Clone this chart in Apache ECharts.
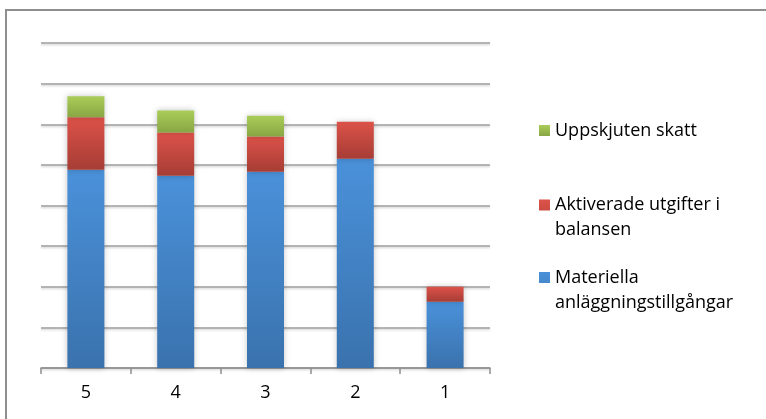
<!DOCTYPE html>
<html>
<head>
<meta charset="utf-8">
<script src="https://cdn.jsdelivr.net/npm/echarts@6/dist/echarts.min.js"></script>
<style>
  html, body { margin: 0; padding: 0; background: #fff; overflow: hidden; }
  #frame { position: absolute; left: 5px; top: 9px; width: 900px; height: 600px;
           border-left: 2px solid #8e8e8e; border-top: 2px solid #8e8e8e; }
  #chart { position: absolute; left: 0; top: 0; width: 766px; height: 419px; }
</style>
</head>
<body>
<div id="frame"></div>
<div id="chart"></div>
<script>
// Years, newest first
const categories = ['5', '4', '3', '2', '1'];
// Stacked components
const materiella = [4.88, 4.73, 4.83, 5.15, 1.63];
const aktiverade = [1.29, 1.07, 0.87, 0.91, 0.37];
const uppskjuten = [0.52, 0.54, 0.51, null, null];

const names = {
  mat: 'Materiella anläggningstillgångar',
  akt: 'Aktiverade utgifter i balansen',
  upp: 'Uppskjuten skatt'
};
const labelLines = {
  [names.mat]: 'Materiella\nanläggningstillgångar',
  [names.akt]: 'Aktiverade utgifter i\nbalansen',
  [names.upp]: 'Uppskjuten skatt'
};

function grad(top, bottom) {
  return new echarts.graphic.LinearGradient(0, 0, 0, 1, [
    { offset: 0, color: top },
    { offset: 1, color: bottom }
  ]);
}

const FONT = '"Open Sans"';
const FONT_SIZE = 18;
const LINE_H = 25;

function barSeries(name, data, top, bottom) {
  return {
    name: name,
    type: 'bar',
    stack: 'total',
    data: data,
    barWidth: 37,
    itemStyle: {
      color: grad(top, bottom),
      shadowBlur: 6,
      shadowColor: 'rgba(0,0,0,0.22)'
    },
    emphasis: { disabled: true }
  };
}

// One legend block per entry; two-line entries keep the swatch beside the first line.
// The block's box starts half a line above the swatch centre.
function legendAt(name, swatchCenter) {
  const twoLines = labelLines[name].indexOf('\n') >= 0;
  const h = twoLines ? 11 + LINE_H : 11;
  return {
    data: [name],
    left: 539,
    top: swatchCenter - LINE_H / 2,
    orient: 'vertical',
    icon: twoLines
      ? 'path://M0,0h11v11h-11z M0,' + h + 'h0.01v-0.01h-0.01z'
      : 'rect',
    itemWidth: 11,
    itemHeight: h,
    itemGap: 0,
    padding: 0,
    selectedMode: false,
    formatter: n => labelLines[n],
    textStyle: {
      fontFamily: FONT,
      fontSize: FONT_SIZE,
      color: '#000',
      lineHeight: LINE_H
    }
  };
}

const chart = echarts.init(document.getElementById('chart'), null, { renderer: 'canvas' });
chart.setOption({
  animation: false,
  backgroundColor: 'transparent',
  grid: { left: 41, right: 276, top: 43, bottom: 51, containLabel: false },
  legend: [
    legendAt(names.upp, 130.5),
    legendAt(names.akt, 205),
    legendAt(names.mat, 277.5)
  ],
  xAxis: {
    type: 'category',
    data: categories,
    boundaryGap: true,
    axisLine: { show: true, lineStyle: { color: '#8e8e8e', width: 1.5 } },
    axisTick: { show: true, length: 6, lineStyle: { color: '#8e8e8e', width: 1.5 } },
    axisLabel: { fontFamily: FONT, fontSize: FONT_SIZE, color: '#000', margin: 16 }
  },
  yAxis: {
    type: 'value',
    min: 0,
    max: 8,
    interval: 1,
    axisLine: { show: false },
    axisTick: { show: false },
    axisLabel: { show: false },
    splitLine: {
      lineStyle: {
        color: '#9c9c9c',
        width: 1.6,
        shadowColor: 'rgba(0,0,0,0.18)',
        shadowBlur: 2,
        shadowOffsetY: 1.5
      }
    }
  },
  series: [
    barSeries(names.mat, materiella, '#4a91da', '#3a72ad'),
    barSeries(names.akt, aktiverade, '#dc5249', '#a63d35'),
    barSeries(names.upp, uppskjuten, '#aacd58', '#88a644')
  ]
});
</script>
</body>
</html>
